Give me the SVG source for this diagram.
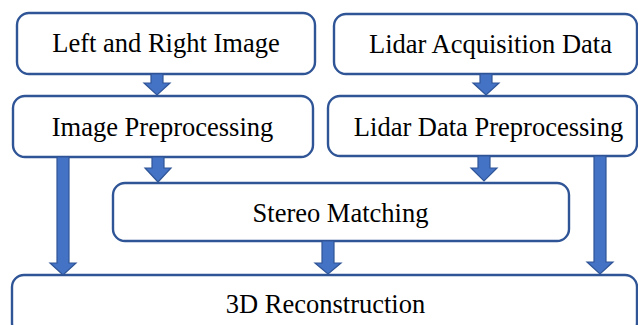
<svg xmlns="http://www.w3.org/2000/svg" width="638" height="325" viewBox="0 0 638 325">
  <style>
    .box { fill: #ffffff; stroke: #2F5597; stroke-width: 2.4; }
    .lbl { font-family: "Liberation Serif", "Times New Roman", serif; font-size: 26.5px; fill: #000000; text-anchor: middle; }
    .arr { fill: #4472C4; stroke: #2F5597; stroke-width: 1.2; stroke-linejoin: miter; }
  </style>
  <rect width="638" height="325" fill="#ffffff"/>

  <g id="left-right-image">
    <rect class="box" x="17" y="13" width="298" height="61" rx="12"/>
    <text class="lbl" x="166" y="52">Left and Right Image</text>
  </g>
  <g id="lidar-acquisition">
    <rect class="box" x="334" y="14" width="303" height="60" rx="12"/>
    <text class="lbl" x="490.5" y="53">Lidar Acquisition Data</text>
  </g>
  <g id="image-preprocessing">
    <rect class="box" x="13" y="96" width="300" height="61" rx="12"/>
    <text class="lbl" x="162.5" y="136">Image Preprocessing</text>
  </g>
  <g id="lidar-preprocessing">
    <rect class="box" x="328" y="96" width="309" height="60" rx="12"/>
    <text class="lbl" x="488.5" y="136">Lidar Data Preprocessing</text>
  </g>
  <g id="stereo-matching">
    <rect class="box" x="113" y="183" width="456" height="58" rx="12"/>
    <text class="lbl" x="340.5" y="222">Stereo Matching</text>
  </g>
  <g id="reconstruction">
    <rect class="box" x="12" y="275" width="625" height="60" rx="12"/>
    <text class="lbl" x="325.5" y="313">3D Reconstruction</text>
  </g>

  <g id="connectors">
    <!-- block arrows: shaft half-width 6, head half-width 13 -->
    <path class="arr" d="M151,74 H163 V83 H170 L157,95 L144,83 H151 Z"/>
    <path class="arr" d="M480,74 H492 V83 H499 L486,95 L473,83 H480 Z"/>
    <path class="arr" d="M57,157 H69 V263 H76 L63,275 L50,263 H57 Z"/>
    <path class="arr" d="M594,156 H606 V262 H613 L600,274 L587,262 H594 Z"/>
    <path class="arr" d="M152,157 H164 V168 H171 L158,182 L145,168 H152 Z"/>
    <path class="arr" d="M478,156 H490 V168 H497 L484,181 L471,168 H478 Z"/>
    <path class="arr" d="M322,241 H334 V263 H341 L328,274 L315,263 H322 Z"/>
  </g>
</svg>
